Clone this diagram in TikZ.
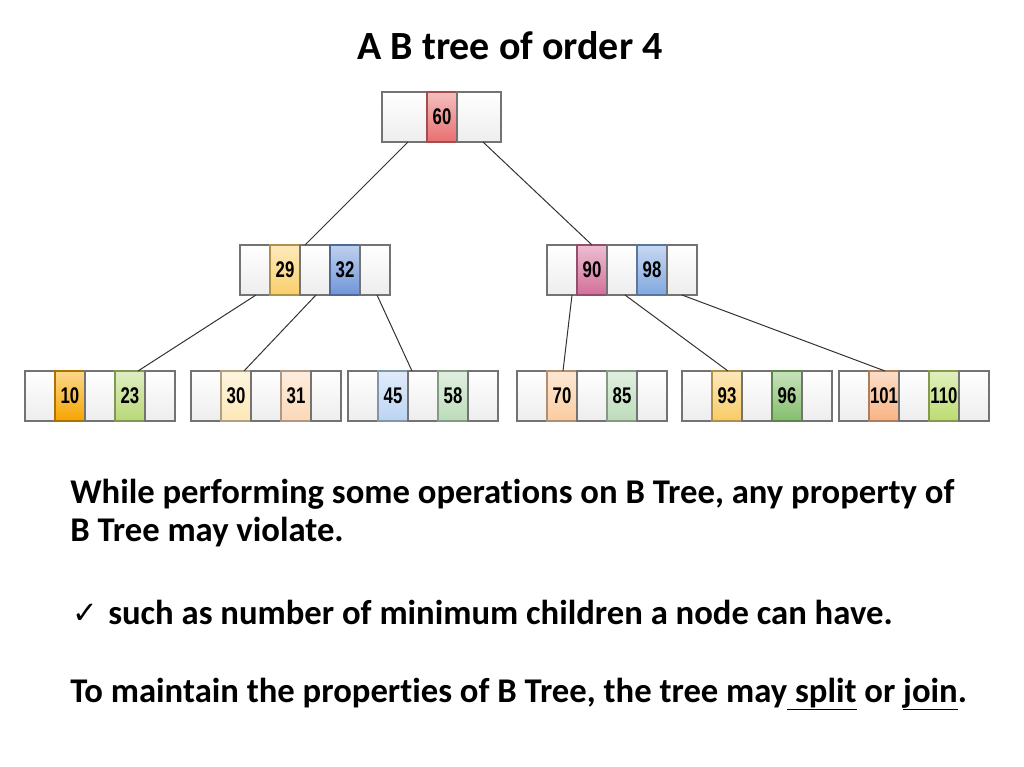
\documentclass[tikz,border=0pt]{standalone}
\usepackage{fontspec}
\setmainfont{Carlito}[Ligatures=NoCommon]
\newfontfamily\numfont{Liberation Sans}
\newfontfamily\symfont{DejaVu Sans}
\usetikzlibrary{calc}
\definecolor{cRed}{HTML}{E8706F}
\definecolor{cYel}{HTML}{F9CF6A}
\definecolor{cBlu}{HTML}{7096D8}
\definecolor{cPink}{HTML}{D36F9A}
\definecolor{cBluB}{HTML}{82A8E0}
\definecolor{cOrange}{HTML}{F6A500}
\definecolor{cLGreen}{HTML}{B8D878}
\definecolor{cCream}{HTML}{FCE8B8}
\definecolor{cPeach}{HTML}{FBD8B8}
\definecolor{cLBlue}{HTML}{BCD4F2}
\definecolor{cMint}{HTML}{BCDCBA}
\definecolor{cPeachB}{HTML}{FACCA0}
\definecolor{cYelB}{HTML}{F8CC66}
\definecolor{cGreen}{HTML}{84BE6C}
\definecolor{cApricot}{HTML}{F8B484}
\definecolor{cLime}{HTML}{BCDC70}
\newcommand\bc[4][30]{\node[blank, minimum width=#1*0.75pt] (#2) at (#3,#4) {};}
\newcommand\kc[5]{\node[keycell=#4] (#1) at (#2,#3) {\scalebox{0.74}[1]{#5}};}
\begin{document}
\begin{tikzpicture}[x=0.75pt,y=-0.75pt,
  cellbase/.style={anchor=north west, inner sep=0pt, outer sep=0pt,
    minimum height=37.5pt, minimum width=22.5pt, line width=0.8pt,
    font=\numfont\bfseries\fontsize{17pt}{17pt}\selectfont},
  blank/.style={cellbase, draw=black!55, top color=white, bottom color=black!7},
  keycell/.style={cellbase, draw=#1!70!black, top color=#1!45!white, bottom color=#1},
  edge/.style={draw=black!80, line width=0.75pt},
  body/.style={anchor=base west, inner sep=0pt, font=\bfseries\fontsize{26pt}{30pt}\selectfont}
]
\useasboundingbox[fill=white] (0,0) rectangle (1024,767);

\node[anchor=base, inner sep=0pt, font=\bfseries\fontsize{30pt}{34pt}\selectfont] (title) at (510,60) {A B tree of order 4};

% root
\bc[45]{r1}{382}{92}
\node[keycell=cRed, minimum width=22.5pt] (r2) at (427,92) {\scalebox{0.74}[1]{60}};
\bc[44]{r3}{457}{92}

% middle left
\bc{ml1}{240}{245} \kc{ml2}{270}{245}{cYel}{29} \bc{ml3}{300}{245} \kc{ml4}{330}{245}{cBlu}{32} \bc{ml5}{360}{245}
% middle right
\bc{mr1}{547}{245} \kc{mr2}{577}{245}{cPink}{90} \bc{mr3}{607}{245} \kc{mr4}{637}{245}{cBluB}{98} \bc{mr5}{667}{245}

% leaves
\bc{a1}{25}{371} \kc{a2}{55}{371}{cOrange}{10} \bc{a3}{85}{371} \kc{a4}{115}{371}{cLGreen}{23} \bc{a5}{145}{371}
\bc{b1}{191}{371} \kc{b2}{221}{371}{cCream}{30} \bc{b3}{251}{371} \kc{b4}{281}{371}{cPeach}{31} \bc{b5}{311}{371}
\bc{c1}{348}{371} \kc{c2}{378}{371}{cLBlue}{45} \bc{c3}{408}{371} \kc{c4}{438}{371}{cMint}{58} \bc{c5}{468}{371}
\bc{d1}{517}{371} \kc{d2}{547}{371}{cPeachB}{70} \bc{d3}{577}{371} \kc{d4}{607}{371}{cMint}{85} \bc{d5}{637}{371}
\bc{e1}{682}{371} \kc{e2}{712}{371}{cYelB}{93} \bc{e3}{742}{371} \kc{e4}{772}{371}{cGreen}{96} \bc{e5}{802}{371}
\bc{f1}{839}{371} \kc{f2}{869}{371}{cApricot}{101} \bc{f3}{899}{371} \kc{f4}{929}{371}{cLime}{110} \bc{f5}{959}{371}

% edges
\draw[edge] ($(r1.south west)+(26,0)$) -- ($(ml3.north west)+(5,0)$);
\draw[edge] ($(r3.south west)+(26,0)$) -- ($(mr2.north west)+(15,0)$);
\draw[edge] ($(ml1.south west)+(16,0)$) -- ($(a4.north west)+(23,0)$);
\draw[edge] ($(ml3.south west)+(16,0)$) -- ($(b2.north west)+(23,0)$);
\draw[edge] ($(ml5.south west)+(17,0)$) -- ($(c3.north west)+(4,0)$);
\draw[edge] ($(mr1.south west)+(25,0)$) -- ($(d2.north west)+(16,0)$);
\draw[edge] ($(mr3.south west)+(18,0)$) -- ($(e2.north west)+(16,0)$);
\draw[edge] ($(mr5.south west)+(15,0)$) -- ($(f2.north west)+(16,0)$);

% text
\node[body] (t1) at (70,503) {While performing some operations on B Tree, any property of};
\node[body] (t2) at (70,541) {B Tree may violate.};
\node[anchor=base west, inner sep=0pt, font=\symfont\fontsize{23pt}{26pt}\selectfont] (chk) at (72,623) {✓};
\node[body] (t3) at (108,624) {such as number of minimum children a node can have.};
\node[body] (t4) at (70,702) {To maintain the properties of B Tree, the tree may\underline{\ split} or \underline{join}.};
\end{tikzpicture}
\end{document}
